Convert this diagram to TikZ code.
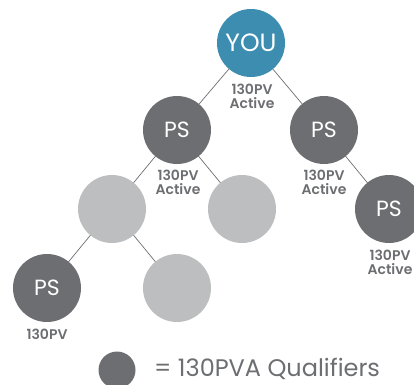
\documentclass[tikz,border=0pt]{standalone}
\usepackage{fontspec}
\setmainfont{Poppins}
\newfontfamily\medfont{Poppins SemiBold}
\definecolor{youblue}{HTML}{3D8DB0}
\definecolor{darkg}{HTML}{6D6E71}
\definecolor{lightg}{HTML}{BCBEC0}
\begin{document}
\begin{tikzpicture}[x=1pt,y=1pt,
  member/.style={circle,minimum size=68pt,inner sep=0pt,text=white},
  youbox/.style={member,fill=youblue,font=\fontsize{25}{25}\selectfont},
  psbox/.style={member,fill=darkg,font=\fontsize{22}{22}\selectfont},
  emptybox/.style={member,fill=lightg},
  pvlabel/.style={text=darkg,align=center,inner sep=0pt,font=\medfont\fontsize{14}{14}\selectfont},
  link/.style={draw=darkg,line width=0.7pt}]
\useasboundingbox (0,0) rectangle (414,384);
\clip (0,0) rectangle (414,384);
\coordinate (you) at (251,341);
\coordinate (ps1) at (177,254);
\coordinate (ps2) at (324,254);
\coordinate (g1) at (112,175);
\coordinate (g2) at (242,175);
\coordinate (ps3) at (389,175);
\coordinate (ps4) at (47,96);
\coordinate (g3) at (177,96);
\draw[link] (you) -- (ps1);
\draw[link] (you) -- (ps2);
\draw[link] (ps1) -- (g1);
\draw[link] (ps1) -- (g2);
\draw[link] (ps2) -- (ps3);
\draw[link] (g1) -- (ps4);
\draw[link] (g1) -- (g3);
\node[youbox] (youN) at (you) {YOU};
\node[psbox] (ps1N) at (ps1) {PS};
\node[psbox] (ps2N) at (ps2) {PS};
\node[emptybox] (g1N) at (g1) {};
\node[emptybox] (g2N) at (g2) {};
\node[psbox] (ps3N) at (ps3) {PS};
\node[psbox] (ps4N) at (ps4) {PS};
\node[emptybox] (g3N) at (g3) {};
\node[pvlabel] (youL) at (252,288) {130PV\\Active};
\node[pvlabel] (ps1L) at (178,202) {130PV\\Active};
\node[pvlabel] (ps2L) at (324,202) {130PV\\Active};
\node[pvlabel] (ps3L) at (390,122) {130PV\\Active};
\node[pvlabel] (ps4L) at (47,50) {130PV};
\node[circle,fill=darkg,minimum size=37pt,inner sep=0pt] (legC) at (117,14) {};
\node[anchor=base west,text=darkg,inner sep=0pt,font=\fontsize{24}{24}\selectfont] (legT) at (154,7.5) {= 130PVA Qualifiers};
\end{tikzpicture}
\end{document}
